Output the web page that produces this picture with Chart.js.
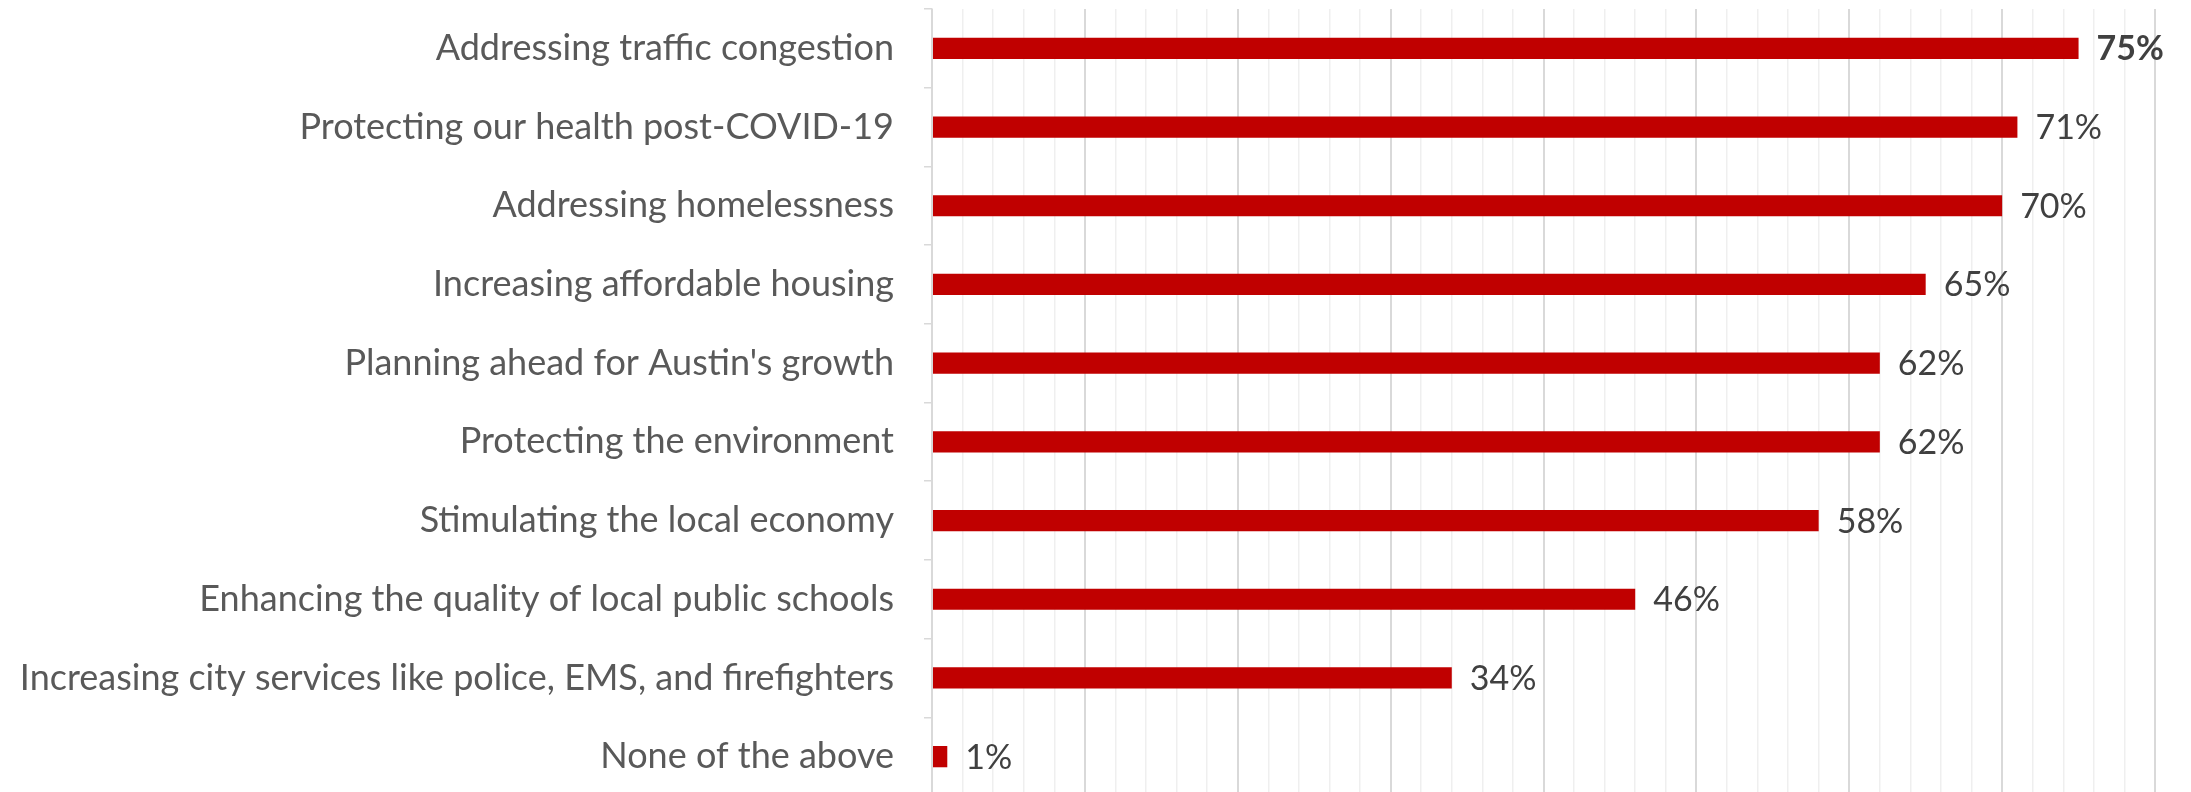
<!DOCTYPE html>
<html>
<head>
<meta charset="utf-8">
<title>Priorities</title>
<script src="https://cdn.jsdelivr.net/npm/chart.js@4/dist/chart.umd.min.js"></script>
<style>
  html, body { margin: 0; padding: 0; background: #ffffff; overflow: hidden; }
  #wrap { width: 2191px; height: 800px; }
</style>
</head>
<body>
<div id="wrap"><canvas id="chart" width="2191" height="800"></canvas></div>
<script>
// Share of respondents choosing each priority (percent)
const categories = [
  "Addressing traffic congestion",
  "Protecting our health post-COVID-19",
  "Addressing homelessness",
  "Increasing affordable housing",
  "Planning ahead for Austin's growth",
  "Protecting the environment",
  "Stimulating the local economy",
  "Enhancing the quality of local public schools",
  "Increasing city services like police, EMS, and firefighters",
  "None of the above"
];
const values = [75, 71, 70, 65, 62, 62, 58, 46, 34, 1];
const valueLabels = ["75%", "71%", "70%", "65%", "62%", "62%", "58%", "46%", "34%", "1%"];
const axisMax = 80;
const minorStep = 2;
const majorStep = 10;

const FONT = "Lato, 'Open Sans', sans-serif";

// Writes each bar's percentage just past its end; the top one is bold
const barValueLabels = {
  id: 'barValueLabels',
  afterDatasetsDraw(chart) {
    const ctx = chart.ctx;
    const meta = chart.getDatasetMeta(0);
    ctx.save();
    ctx.textAlign = 'left';
    ctx.textBaseline = 'middle';
    meta.data.forEach((bar, i) => {
      const bold = i === 0;
      ctx.font = (bold ? 'bold ' : '') + '34px ' + FONT;
      ctx.fillStyle = '#404040';
      ctx.fillText(valueLabels[i], bar.x + 18, bar.y + 1);
    });
    ctx.restore();
  }
};

new Chart(document.getElementById('chart'), {
  type: 'bar',
  data: {
    labels: categories,
    datasets: [{
      data: values,
      backgroundColor: '#C00000',
      borderWidth: 0,
      categoryPercentage: 1,
      barPercentage: 0.27
    }]
  },
  options: {
    indexAxis: 'y',
    responsive: false,
    animation: false,
    devicePixelRatio: 1,
    layout: { padding: { top: 9, right: 36, bottom: 4, left: 0 } },
    plugins: {
      legend: { display: false },
      tooltip: { enabled: false }
    },
    scales: {
      x: {
        min: 0,
        max: axisMax,
        ticks: { display: false, stepSize: minorStep },
        border: { display: false },
        grid: {
          drawTicks: false,
          color: c => (c.tick && c.tick.value % majorStep === 0) ? '#d9d9d9' : '#efefef',
          lineWidth: c => (c.tick && c.tick.value % majorStep === 0) ? 2 : 1.5
        },
        afterFit: s => { s.height = 0; s.paddingLeft = 0; s.paddingRight = 0; }
      },
      y: {
        ticks: {
          color: '#595959',
          font: { family: FONT, size: 36 },
          padding: 30
        },
        border: { display: true, color: '#d9d9d9', width: 1.5 },
        grid: {
          offset: true,
          drawOnChartArea: false,
          drawTicks: true,
          tickLength: 8,
          color: '#d9d9d9',
          lineWidth: 1.5
        },
        afterFit: s => { s.width = 932; s.paddingTop = 0; s.paddingBottom = 0; }
      }
    }
  },
  plugins: [barValueLabels]
});
</script>
</body>
</html>
